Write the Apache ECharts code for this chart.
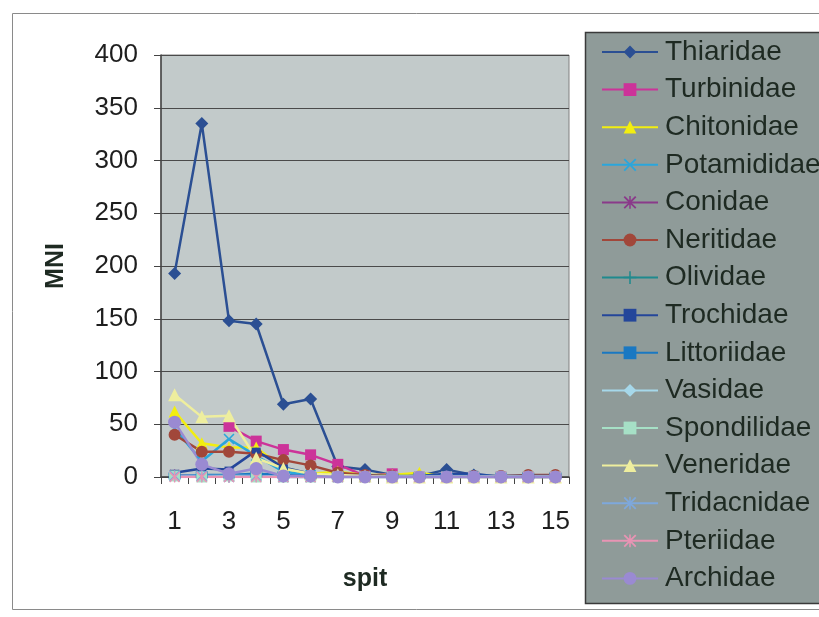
<!DOCTYPE html>
<html>
<head>
<meta charset="utf-8">
<script src="https://cdn.jsdelivr.net/npm/echarts@6/dist/echarts.min.js"></script>
<style>html,body{margin:0;padding:0;background:#fff;}#c{width:819px;height:617px;}</style>
</head>
<body>
<div id="c"></div>
<script>
const spits = ['1','2','3','4','5','6','7','8','9','10','11','12','13','14','15'];
const yTicks = [0, 50, 100, 150, 200, 250, 300, 350, 400];

const thiaridae   = [193, 335, 148, 145, 69, 74, 10, 7, 2, 1, 7, 2, 0, 0, 0];
const turbinidae  = [null, null, 48, 34, 26, 21, 12, 1, 3, 0, 0, 0, 0, 0, 0];
const chitonidae  = [62, 32, 28, 28, 8, 3, 5, 2, 2, 4, 0, 0, 0, 0, 0];
const potamididae = [46, 15, 36, 20, 5, 2, 1, 0, 0, 0, 0, 0, 0, 0, 0];
const conidae     = [2, 1, 1, 2, 0, 0, 0, 0, 0, 0, 0, 0, 0, 0, 0];
const neritidae   = [40, 24, 24, 22, 16, 11, 4, 2, 1, 0, 0, 1, 1, 2, 2];
const olividae    = [1, 1, 0, 1, 0, 0, 0, 0, 0, 0, 0, 0, 0, 0, 0];
const trochidae   = [4, 8, 7, 25, 9, 3, 1, 1, 0, 1, 3, 3, 0, 0, 0];
const littoriidae = [1, 2, 2, 3, 2, 1, 1, 1, 1, 1, 1, 1, 1, 1, 1];
const vasidae     = [1, 1, 1, 1, 0, 0, 0, 0, 0, 0, 0, 0, 0, 0, 0];
const spondilidae = [1, 0, 1, 0, 0, 0, 0, 0, 0, 0, 0, 0, 0, 0, 0];
const veneridae   = [78, 57, 58, 18, 8, 3, 2, 1, 0, 0, 0, 0, 0, 0, 0];
const tridacnidae = [1, 1, 0, 1, 0, 0, 0, 0, 0, 0, 0, 0, 0, 0, 0];
const pteriidae   = [0, 0, 0, 0, 0, 0, 0, 0, 0, 0, 0, 0, 0, 0, 0];
const archidae    = [52, 12, 3, 8, 1, 1, 0, 0, 0, 0, 0, 0, 0, 0, 0];

const X_PATH = 'path://M0,1 L1,0 L5,4 L9,0 L10,1 L6,5 L10,9 L9,10 L5,6 L1,10 L0,9 L4,5 Z';
const PLUS_PATH = 'path://M4.4,0 L5.6,0 L5.6,4.4 L10,4.4 L10,5.6 L5.6,5.6 L5.6,10 L4.4,10 L4.4,5.6 L0,5.6 L0,4.4 L4.4,4.4 Z';
const STAR_PATH = 'path://M0,1 L1,0 L5,4 L9,0 L10,1 L6,5 L10,9 L9,10 L5,6 L1,10 L0,9 L4,5 Z M4.4,0 L5.6,0 L5.6,10 L4.4,10 Z';

const seriesDefs = [
  ['Thiaridae', thiaridae, '#2b4f93', 'diamond', 13],
  ['Turbinidae', turbinidae, '#cc3399', 'rect', 11],
  ['Chitonidae', chitonidae, '#f2ee10', 'triangle', 12],
  ['Potamididae', potamididae, '#2aa6dc', X_PATH, 11],
  ['Conidae', conidae, '#8a3a8a', STAR_PATH, 11],
  ['Neritidae', neritidae, '#a1473a', 'circle', 12],
  ['Olividae', olividae, '#1f8a8e', PLUS_PATH, 11],
  ['Trochidae', trochidae, '#24469a', 'rect', [9, 6]],
  ['Littoriidae', littoriidae, '#1a78c2', 'rect', [12, 7]],
  ['Vasidae', vasidae, '#a6d8ea', 'diamond', 11],
  ['Spondilidae', spondilidae, '#a6e0c6', 'rect', 11],
  ['Veneridae', veneridae, '#eeee9e', 'triangle', 13],
  ['Tridacnidae', tridacnidae, '#7ea8dc', STAR_PATH, 11],
  ['Pteriidae', pteriidae, '#e894b4', STAR_PATH, 11],
  ['Archidae', archidae, '#9a8ad2', 'circle', 13]
];

const series = seriesDefs.map(d => ({
  name: d[0],
  type: 'line',
  data: d[1],
  symbol: d[3],
  symbolSize: d[4],
  showAllSymbol: true,
  connectNulls: false,
  lineStyle: { color: d[2], width: 2.5 },
  itemStyle: { color: d[2] },
  emphasis: { disabled: true },
  animation: false
}));

const chart = echarts.init(document.getElementById('c'), null, { renderer: 'canvas' });
chart.setOption({
  backgroundColor: '#ffffff',
  animation: false,
  textStyle: { fontFamily: 'Liberation Sans, Arial, sans-serif' },
  graphic: [
    { type: 'rect', z: -10, shape: { x: 12.5, y: 13.5, width: 830, height: 596 }, style: { fill: 'none', stroke: '#8a8a8a', lineWidth: 1 } },
    { type: 'rect', z: -10, shape: { x: 585.5, y: 32.5, width: 260, height: 571 }, style: { fill: '#8f9b99', stroke: '#3a3a3a', lineWidth: 1.5 } }
  ],
  grid: {
    left: 161, right: 250, top: 55, bottom: 140,
    show: true, backgroundColor: '#c2caca', borderColor: '#808080', borderWidth: 1
  },
  legend: {
    orient: 'vertical',
    left: 601, top: 38,
    padding: 0,
    itemWidth: 56, itemHeight: 16, itemGap: 9.6,
    textStyle: { fontSize: 28, color: '#1e2a22', fontFamily: 'Liberation Sans, Arial, sans-serif', padding: [0, 0, 0, 2] },
    data: seriesDefs.map(d => d[0]),
    z: 20
  },
  xAxis: {
    type: 'category',
    data: spits,
    boundaryGap: true,
    name: 'spit',
    nameLocation: 'middle',
    nameGap: 90,
    nameTextStyle: { fontSize: 25, fontWeight: 'bold', color: '#1e2a22' },
    axisLine: { lineStyle: { color: '#444', width: 1.5 } },
    axisTick: { show: true, inside: false, length: 7, interval: 0, alignWithLabel: false, lineStyle: { color: '#444' } },
    axisLabel: { interval: 1, fontSize: 26, color: '#1e1e1e', margin: 32 },
    splitLine: { show: false }
  },
  yAxis: {
    type: 'value',
    min: yTicks[0], max: yTicks[yTicks.length - 1], interval: 50,
    name: 'MNI',
    nameLocation: 'middle',
    nameGap: 92,
    nameRotate: 90,
    nameTextStyle: { fontSize: 25, fontWeight: 'bold', color: '#1e2a22' },
    axisLine: { show: true, lineStyle: { color: '#444', width: 1.5 } },
    axisTick: { show: true, inside: false, length: 7, lineStyle: { color: '#444' } },
    axisLabel: { fontSize: 26, color: '#1e1e1e', margin: 23 },
    splitLine: { show: true, lineStyle: { color: '#4a4a4a', width: 1 } }
  },
  series: series
});
</script>
</body>
</html>
